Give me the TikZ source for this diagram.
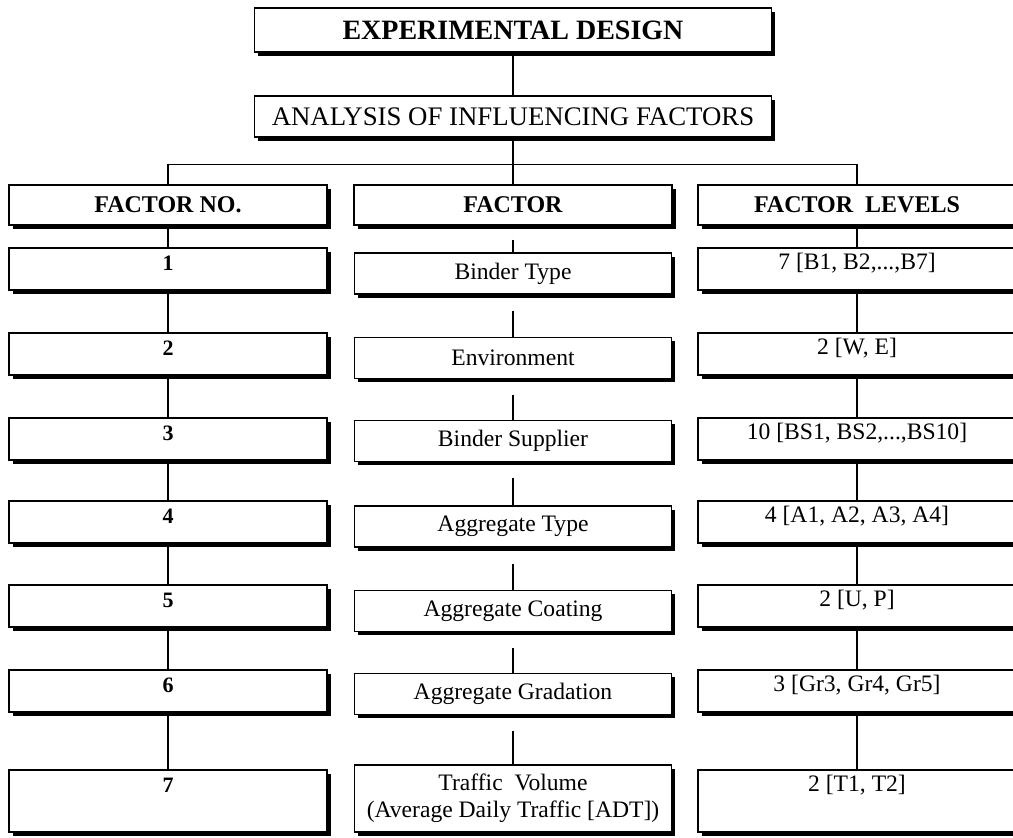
\documentclass[tikz,border=0pt]{standalone}
\usepackage{fontspec}
\setmainfont{Liberation Serif}
\usetikzlibrary{positioning,shadows}
\tikzset{
    block/.style = {draw, rectangle, fill=white, line width=0.6pt,
        drop shadow={shadow xshift=1.8pt, shadow yshift=-1.8pt, fill=black, opacity=1},
        minimum height=21pt, minimum width=159pt, inner ysep=0pt},
    topbox/.style = {block, minimum width=258.5pt, minimum height=22pt},
    headbox/.style = {block, font=\fontsize{12}{14}\selectfont\bfseries, minimum height=20pt},
    numbox/.style = {block, font=\fontsize{11}{13}\selectfont\bfseries, text height=11.5pt, text depth=9.5pt},
    namebox/.style = {block, font=\fontsize{11.8}{13.5}\selectfont, minimum width=158.5pt, minimum height=20.5pt},
    levelbox/.style = {block, font=\fontsize{11.8}{13.5}\selectfont, text height=11pt, text depth=10pt},
    line/.style = {draw, line width=0.6pt}
}

\begin{document}
\begin{tikzpicture}[x=0.5pt,y=-0.5pt,node distance=42.5pt]
    \useasboundingbox (0,0) rectangle (1013,838);
    \clip (0,0) rectangle (1013,838);
    % design and analysis
    \node [topbox, font=\fontsize{14}{16}\selectfont\bfseries] (design) at (513,30) {EXPERIMENTAL DESIGN};
    \node [topbox, font=\fontsize{13.4}{16}\selectfont, minimum height=20.5pt, below of=design, node distance=43.25pt] (analysis) {ANALYSIS OF INFLUENCING FACTORS};
    \draw [line] (design) -- (analysis);
    % header row
    \node [headbox] (fac) at (513,205) {FACTOR};
    \node [headbox, left of=fac, node distance=172.5pt] (fno) {FACTOR NO.};
    \node [headbox, right of=fac, node distance=172pt] (lev) {FACTOR~ LEVELS};
    \draw [line] (analysis) -- (fac);
    \draw [line] (fno.north) -- ++(0,10pt) -| (lev.north);
    % factor numbers
    \node [numbox, below of=fno, node distance=32pt] (n1) {1};
    \node [numbox, below of=n1] (n2) {2};
    \node [numbox, below of=n2] (n3) {3};
    \node [numbox, below of=n3, node distance=41.5pt] (n4) {4};
    \node [numbox, below of=n4, node distance=42pt] (n5) {5};
    \node [numbox, below of=n5] (n6) {6};
    \node [numbox, below of=n6, node distance=55pt, text depth=19.5pt] (n7) {7};
    \draw [line] (fno) -- (n1) -- (n2) -- (n3) -- (n4) -- (n5) -- (n6) -- (n7);
    % factors
    \node [namebox, below of=fac, node distance=34.25pt] (f1) {Binder Type};
    \node [namebox, below of=f1, node distance=42.25pt] (f2) {Environment};
    \node [namebox, below of=f2, node distance=41.5pt] (f3) {Binder Supplier};
    \node [namebox, below of=f3, node distance=42.75pt] (f4) {Aggregate Type};
    \node [namebox, below of=f4, node distance=42.25pt] (f5) {Aggregate Coating};
    \node [namebox, below of=f5, node distance=41.5pt] (f6) {Aggregate Gradation};
    \node [namebox, below of=f6, node distance=52.25pt, minimum height=33.5pt, align=center] (f7) {Traffic~ Volume\\(Average Daily Traffic [ADT])};
    \draw [line] (fac.south) ++(0,-7pt) -- (f1.north);
    \draw [line] (f1.south) ++(0,-8pt) -- (f2.north);
    \draw [line] (f2.south) ++(0,-8pt) -- (f3.north);
    \draw [line] (f3.south) ++(0,-8pt) -- (f4.north);
    \draw [line] (f4.south) ++(0,-8pt) -- (f5.north);
    \draw [line] (f5.south) ++(0,-8pt) -- (f6.north);
    \draw [line] (f6.south) ++(0,-8pt) -- (f7.north);
    % factor levels
    \node [levelbox, below of=lev, node distance=32pt] (l1) {7 [B1, B2,...,B7]};
    \node [levelbox, below of=l1] (l2) {2 [W, E]};
    \node [levelbox, below of=l2] (l3) {10 [BS1, BS2,...,BS10]};
    \node [levelbox, below of=l3, node distance=41.5pt] (l4) {4 [A1, A2, A3, A4]};
    \node [levelbox, below of=l4, node distance=42pt] (l5) {2 [U, P]};
    \node [levelbox, below of=l5] (l6) {3 [Gr3, Gr4, Gr5]};
    \node [levelbox, below of=l6, node distance=55pt, text depth=20pt] (l7) {2 [T1, T2]};
    \draw [line] (lev) -- (l1) -- (l2) -- (l3) -- (l4) -- (l5) -- (l6) -- (l7);
\end{tikzpicture}
\end{document}
